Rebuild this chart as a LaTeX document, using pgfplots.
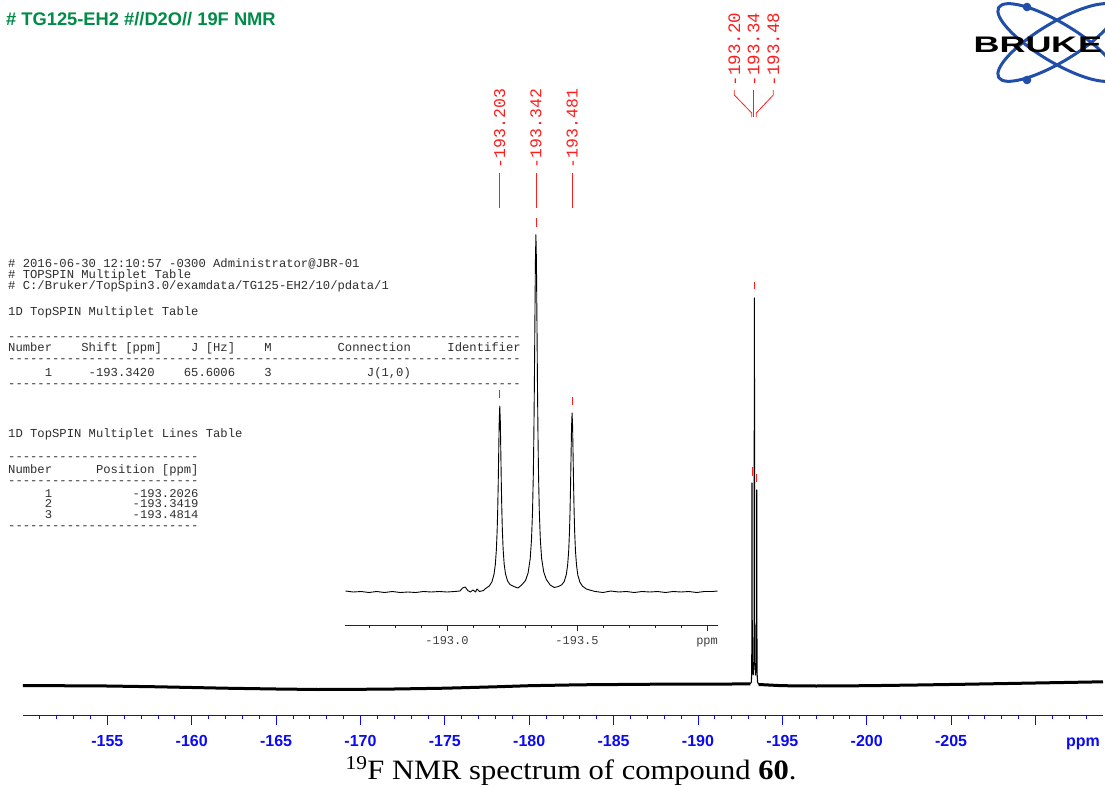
\documentclass[border=0pt]{standalone}
\usepackage{fontspec}
\usepackage{pgfplots}
\pgfplotsset{compat=1.18}
\setmainfont{Liberation Serif}
\setmonofont{Liberation Mono}
\newfontfamily\arial{Liberation Sans}
\definecolor{tgreen}{RGB}{0,140,72}
\definecolor{bblue}{RGB}{32,78,168}
\definecolor{axblue}{RGB}{10,10,245}
\definecolor{pkred}{RGB}{255,30,30}
\definecolor{tabgray}{RGB}{45,45,45}
\newcommand\tline[2]{\node[anchor=base west, inner sep=0, font=\ttfamily\fontsize{12.2}{12.2}\selectfont, text=tabgray] at (8,{785-#1}) {#2};}
\newcommand\sline[2]{\node[anchor=base west, inner sep=0, xscale=1.034, font=\ttfamily\fontsize{11.8}{11.8}\selectfont, text=tabgray] at (8,{785-#1}) {#2};}
\begin{document}
\begin{tikzpicture}[x=1pt,y=1pt]
\path[use as bounding box] (0,0) rectangle (1105,785);

% ---------------- Bruker logo
\begin{scope}[shift={(1057,742.5)}]
  \draw[bblue, line width=3pt, rotate=-31] (0,0) ellipse [x radius=68, y radius=19.5];
  \draw[bblue, line width=3pt, rotate=31] (0,0) ellipse [x radius=68, y radius=19.5];
  \fill[bblue] (-30,35.5) circle (4.3);
  \fill[bblue] (-30,-37.5) circle (4.3);
\end{scope}
\foreach \l/\xx in {B/986.5, R/1012.5, U/1038.5, K/1064, E/1090}
  \node[font=\arial\bfseries\fontsize{22.5}{22.5}\selectfont, xscale=1.6, inner sep=0] at (\xx,740) {\l};

% ---------------- title
\node[anchor=west, inner sep=0, font=\arial\bfseries\fontsize{18.3}{20}\selectfont, text=tgreen] at (6,765.5) {\# TG125-EH2 \#//D2O// 19F NMR};

% ---------------- main spectrum
\begin{axis}[
  at={(23pt,70pt)}, anchor=south west, scale only axis,
  width=1080pt, height=715pt,
  xmin=-214, xmax=-150, ymin=70, ymax=785, x dir=reverse,
  axis x line=bottom, axis y line=none,
  x axis line style={-, axblue, line width=1pt},
  xtick={-155,-160,-165,-170,-175,-180,-185,-190,-195,-200,-205,-210},
  xticklabels={-155,-160,-165,-170,-175,-180,-185,-190,-195,-200,-205,{}},
  minor xtick={-213,-212,...,-151},
  tick align=outside,
  major tick length=10pt, minor tick length=3.5pt,
  every tick/.style={axblue, line width=0.9pt},
  xticklabel style={anchor=base, yshift=-21.5pt, font=\arial\bfseries\fontsize{16}{16}\selectfont, text=axblue},
  clip=false,
]
\addplot[black, line width=3pt, line join=round] coordinates {
(-150,99.5) (-152,99.3) (-155,99) (-158,98.2) (-160,97.5) (-162,96.8) (-165,96) (-167.5,95.5)
(-170,95.7) (-172,96) (-175,96.8) (-178,98.2) (-180,99.3) (-183,100.2) (-186,100.6) (-189,101)
(-192,101) (-193.1,101.2)};
\addplot[black, line width=1.1pt, line join=round] coordinates {
(-193.1,101.2) (-193.16,103) (-193.185,112) (-193.197,180) (-193.203,302) (-193.209,180)
(-193.22,125) (-193.27,110) (-193.318,125) (-193.33,200) (-193.342,487) (-193.354,200)
(-193.366,125) (-193.41,110) (-193.46,123) (-193.475,180) (-193.481,295) (-193.487,180)
(-193.5,112) (-193.53,103) (-193.6,100.5)};
\addplot[black, line width=3pt, line join=round] coordinates {
(-193.6,100.5) (-195,99.3) (-197,99) (-200,99.3) (-203,100) (-206,100.8) (-209,101.7)
(-212,102.6) (-214,103.2)};
% peak markers
\draw[pkred, line width=0.8pt] (axis cs:-193.203,318) -- (axis cs:-193.203,309);
\draw[pkred, line width=0.8pt] (axis cs:-193.342,503) -- (axis cs:-193.342,496);
\draw[pkred, line width=0.8pt] (axis cs:-193.481,311) -- (axis cs:-193.481,303);
\end{axis}
\node[anchor=base, inner sep=0, font=\arial\bfseries\fontsize{16}{16}\selectfont, text=axblue] at (1083,38.5) {ppm};

% top-right peak labels
\foreach \xx/\lab in {734.3/-193.20, 753.7/-193.34, 773.3/-193.48}
  \node[rotate=90, anchor=west, inner sep=0, font=\ttfamily\fontsize{17.5}{17.5}\selectfont, text=pkred] at (\xx,698.5) {\lab};
\draw[pkred, line width=0.8pt] (734.3,695) -- (734.3,690) -- (751.7,672) -- (751.7,667.5);
\draw[pkred, line width=0.8pt] (753.7,695) -- (753.7,667.5);
\draw[pkred, line width=0.8pt] (773.3,695) -- (773.3,690) -- (756.3,672) -- (756.3,667.5);

% ---------------- inset
\begin{axis}[
  at={(345pt,160pt)}, anchor=south west, scale only axis,
  width=373pt, height=625pt,
  xmin=-194.042, xmax=-192.608, ymin=160, ymax=785, x dir=reverse,
  axis x line=bottom, axis y line=none,
  x axis line style={-, black!85, line width=0.8pt},
  xtick={-193.0,-193.5,-194.0},
  xticklabels={-193.0,-193.5,ppm},
  minor xtick={-192.7,-192.8,-192.9,-193.1,-193.2,-193.3,-193.4,-193.6,-193.7,-193.8,-193.9},
  tick align=outside,
  major tick length=6pt, minor tick length=3pt,
  every tick/.style={black!85, line width=0.7pt},
  xticklabel style={anchor=base, yshift=-13.5pt, font=\ttfamily\fontsize{12}{12}\selectfont, text=black!75},
  clip=false,
]
\addplot[black, line width=0.9pt, line join=round] coordinates {
(-192.61,194) (-192.64,193) (-192.67,193.5) (-192.70,192.5) (-192.73,193.5) (-192.76,192.5)
(-192.79,193.5) (-192.82,192.5) (-192.85,193) (-192.88,192.5) (-192.91,193.5) (-192.94,193)
(-192.97,193.5) (-193.00,193) (-193.03,193.5) (-193.05,194) (-193.06,197) (-193.07,198)
(-193.08,194.5) (-193.09,193) (-193.10,195) (-193.11,193) (-193.115,196) (-193.125,193.5)
(-193.14,194.5) (-193.148,196.4) (-193.163,199.1) (-193.173,203.2) (-193.181,210.8)
(-193.186,220.6) (-193.190,235.5) (-193.193,254.8) (-193.195,274.2) (-193.197,300.5)
(-193.199,333.4) (-193.201,365) (-193.203,379) (-193.205,365) (-193.207,333.4) (-193.209,300.5)
(-193.211,274.2) (-193.213,254.8) (-193.216,235.5) (-193.220,220.6) (-193.225,211.2)
(-193.233,204) (-193.243,200.3) (-193.258,198.4) (-193.273,197) (-193.287,200) (-193.302,204.5)
(-193.312,212.1) (-193.320,226.3) (-193.325,245.3) (-193.329,273.8) (-193.332,310.7)
(-193.334,348.3) (-193.336,398.8) (-193.338,462.3) (-193.340,523.3) (-193.342,550.3)
(-193.344,523.3) (-193.346,462.3) (-193.348,398.8) (-193.350,348.3) (-193.352,310.7)
(-193.355,273.8) (-193.359,245.3) (-193.364,226.3) (-193.372,213) (-193.382,205.5)
(-193.397,200) (-193.412,197.5) (-193.426,198.3) (-193.441,200.1) (-193.451,203.6)
(-193.459,210.7) (-193.464,220.2) (-193.468,234.3) (-193.471,252.9) (-193.473,271.7)
(-193.475,297.1) (-193.477,328) (-193.479,358.6) (-193.481,372) (-193.483,358.6) (-193.485,328)
(-193.487,297.1) (-193.489,271.7) (-193.491,252.9) (-193.494,234.3) (-193.498,220.2)
(-193.503,210) (-193.511,202.9) (-193.521,198.8) (-193.536,196) (-193.551,194.8)
(-193.57,193.5) (-193.60,192.5) (-193.63,194) (-193.66,193) (-193.69,193.5) (-193.72,192.5)
(-193.75,193.5) (-193.78,193) (-193.81,193.5) (-193.84,192.5) (-193.87,193.5) (-193.90,193)
(-193.93,193.5) (-193.96,192.5) (-193.99,193.5) (-194.02,193.5) (-194.04,194)};
% labels and markers
\node[rotate=90, anchor=west, inner sep=0, font=\ttfamily\fontsize{16.5}{16.5}\selectfont, text=pkred] at (axis cs:-193.203,616.5) {-193.203};
\node[rotate=90, anchor=west, inner sep=0, font=\ttfamily\fontsize{16.5}{16.5}\selectfont, text=pkred] at (axis cs:-193.342,616.5) {-193.342};
\node[rotate=90, anchor=west, inner sep=0, font=\ttfamily\fontsize{16.5}{16.5}\selectfont, text=pkred] at (axis cs:-193.481,616.5) {-193.481};
\draw[pkred, line width=0.8pt] (axis cs:-193.203,612) -- (axis cs:-193.203,577);
\draw[pkred, line width=0.8pt] (axis cs:-193.342,612) -- (axis cs:-193.342,577);
\draw[pkred, line width=0.8pt] (axis cs:-193.481,612) -- (axis cs:-193.481,577);
\draw[pkred, line width=0.8pt] (axis cs:-193.203,395) -- (axis cs:-193.203,387);
\draw[pkred, line width=0.8pt] (axis cs:-193.342,567) -- (axis cs:-193.342,558);
\draw[pkred, line width=0.8pt] (axis cs:-193.481,388) -- (axis cs:-193.481,380);
\end{axis}

% ---------------- multiplet tables
\tline{267.3}{\# 2016-06-30 12:10:57 -0300 Administrator@JBR-01}
\tline{278.3}{\# TOPSPIN Multiplet Table}
\tline{290}{\# C:/Bruker/TopSpin3.0/examdata/TG125-EH2/10/pdata/1}
\tline{315.7}{1D TopSPIN Multiplet Table}
\tline{340.3}{----------------------------------------------------------------------}
\tline{351.7}{Number~~~~Shift~[ppm]~~~~J~[Hz]~~~~M~~~~~~~~~Connection~~~~~Identifier}
\tline{363}{----------------------------------------------------------------------}
\tline{376.7}{~~~~~1~~~~~-193.3420~~~~65.6006~~~~3~~~~~~~~~~~~~J(1,0)}
\tline{388}{----------------------------------------------------------------------}
\tline{437.3}{1D TopSPIN Multiplet Lines Table}
\tline{461}{--------------------------}
\tline{473.5}{Number~~~~~~Position~[ppm]}
\tline{485}{--------------------------}
\sline{497.4}{~~~~~1~~~~~~~~~~~-193.2026}
\sline{508}{~~~~~2~~~~~~~~~~~-193.3419}
\sline{518.6}{~~~~~3~~~~~~~~~~~-193.4814}
\tline{529}{--------------------------}

% ---------------- caption
\node[anchor=base, inner sep=0, xscale=1.09, font=\fontsize{28}{28}\selectfont] at (571,6) {\textsuperscript{19}F NMR spectrum of compound \textbf{60}.};
\end{tikzpicture}
\end{document}
